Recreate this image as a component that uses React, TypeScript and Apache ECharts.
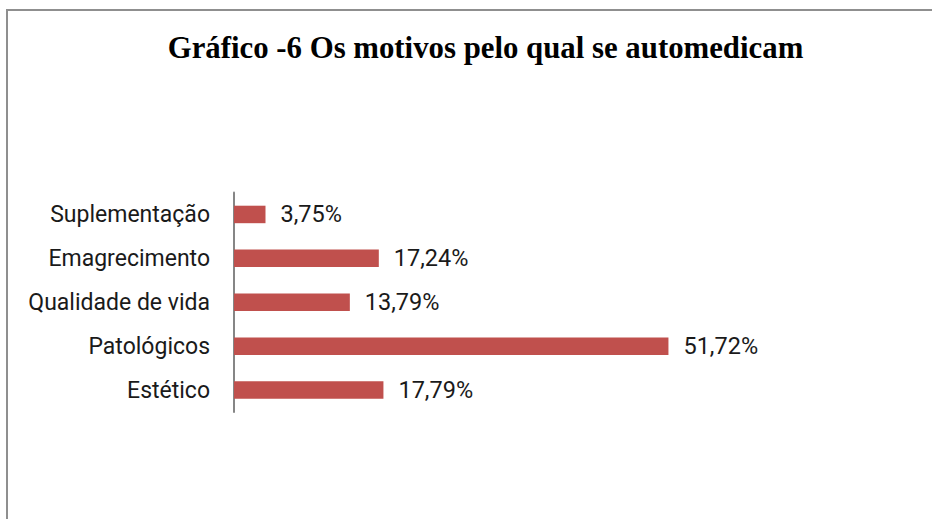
import React, { useEffect, useRef } from "react";
import * as echarts from "echarts";

const title = "Gráfico -6 Os motivos pelo qual se automedicam";
const categories = ["Suplementação", "Emagrecimento", "Qualidade de vida", "Patológicos", "Estético"];
const values = [3.75, 17.24, 13.79, 51.72, 17.79];

const fmt = (v: number) => v.toFixed(2).replace(".", ",") + "%";

export default function App() {
  const ref = useRef<HTMLDivElement>(null);
  useEffect(() => {
    if (!ref.current) return;
    const chart = echarts.init(ref.current, null, { renderer: "svg" });
    chart.setOption({
      animation: false,
      backgroundColor: "#ffffff",
      graphic: [
        {
          type: "line",
          shape: { x1: 7, y1: 9, x2: 7, y2: 519 },
          style: { stroke: "#8f8f8f", lineWidth: 2 },
          silent: true,
        },
        {
          type: "line",
          shape: { x1: 6, y1: 10, x2: 932, y2: 10 },
          style: { stroke: "#8f8f8f", lineWidth: 2 },
          silent: true,
        },
        {
          type: "text",
          x: 485.5,
          y: 47.5,
          style: {
            text: title,
            fontFamily: "Liberation Serif",
            fontWeight: "bold",
            fontSize: 30.8,
            fill: "#000000",
            textAlign: "center",
            textVerticalAlign: "middle",
          },
        },
      ],
      grid: { left: 234, top: 192.5, width: 504, height: 219.5, containLabel: false },
      xAxis: {
        type: "value",
        min: 0,
        max: 60,
        show: false,
        splitLine: { show: false },
      },
      yAxis: {
        type: "category",
        data: categories,
        inverse: true,
        axisLine: { show: true, lineStyle: { color: "#868686", width: 2 } },
        axisTick: { show: false },
        axisLabel: {
          margin: 24,
          fontFamily: "Roboto",
          fontSize: 23,
          color: "#1a1a1a",
        },
      },
      series: [
        {
          type: "bar",
          data: values,
          barWidth: 17.5,
          itemStyle: { color: "#C0504D" },
          label: {
            show: true,
            position: "right",
            distance: 15,
            fontFamily: "Roboto",
            fontSize: 23.5,
            color: "#1a1a1a",
            formatter: (p: any) => fmt(p.value),
          },
        },
      ],
    });
    return () => chart.dispose();
  }, []);
  return (
    <div
      ref={ref}
      style={{ position: "absolute", left: 0, top: 0, width: 932, height: 519, overflow: "hidden" }}
    />
  );
}
